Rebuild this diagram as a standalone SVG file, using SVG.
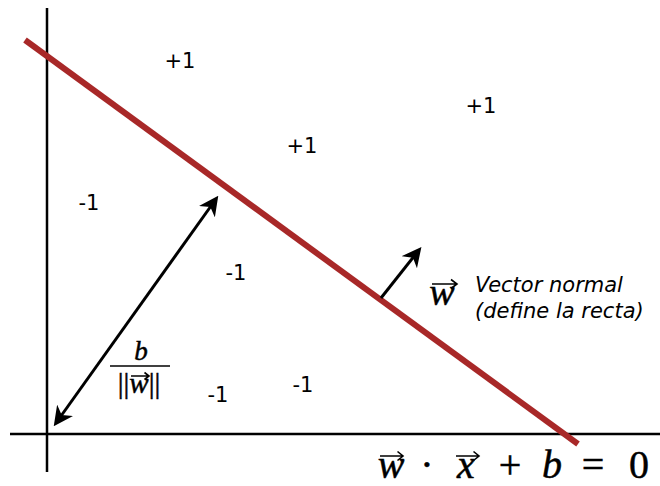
<svg xmlns="http://www.w3.org/2000/svg" width="660" height="486" viewBox="0 0 660 486">
<style>
.ax{stroke:#000;stroke-width:2.5;fill:none}
.arr{stroke:#000;stroke-width:3;fill:none}
.lbl{font-family:"DejaVu Sans",sans-serif;font-size:21px;fill:#000;text-anchor:middle}
.it{font-family:"DejaVu Sans",sans-serif;font-size:21px;font-style:italic;fill:#000}
.m{font-family:"Liberation Serif","DejaVu Serif",serif;fill:#000;stroke:#000;stroke-width:0.5;text-anchor:middle}
.mi{font-style:italic}
.va{stroke:#000;stroke-width:1.6;fill:none}
</style>
<defs>
<marker id="ah" viewBox="0 0 10 10" refX="8" refY="5" markerWidth="6.5" markerHeight="6.5" orient="auto-start-reverse" markerUnits="strokeWidth">
<path d="M0,0 L10,5 L0,10 L3,5 Z" fill="#000"/>
</marker>
</defs>
<rect width="660" height="486" fill="#fff"/>
<g id="axes">
<line class="ax" x1="47" y1="8" x2="47" y2="472"/>
<line class="ax" x1="10" y1="434" x2="660" y2="434"/>
</g>
<g id="hyperplane">
<line x1="25" y1="40" x2="578" y2="444" stroke="#a82828" stroke-width="6"/>
</g>
<g id="connectors">
<line class="arr" x1="56" y1="423" x2="216" y2="199" marker-start="url(#ah)" marker-end="url(#ah)"/>
<line class="arr" x1="381" y1="298" x2="419" y2="250" marker-end="url(#ah)"/>
</g>
<g id="labels">
<text class="lbl" x="180" y="68">+1</text>
<text class="lbl" x="481" y="113">+1</text>
<text class="lbl" x="302" y="153">+1</text>
<text class="lbl" x="89" y="210">-1</text>
<text class="lbl" x="236" y="280">-1</text>
<text class="lbl" x="303" y="392">-1</text>
<text class="lbl" x="218" y="402">-1</text>
</g>
<g id="normal-label">
<text class="m mi" x="442" y="305" font-size="38">w</text>
<path class="va" d="M432,284 L457,284 M451,279.5 L457,284 L451,288.5"/>
<text class="it" x="475" y="292">Vector normal</text>
<text class="it" x="475" y="318">(define la recta)</text>
</g>
<g id="distance-label">
<text class="m mi" x="141" y="360" font-size="27">b</text>
<line x1="110" y1="366" x2="170" y2="366" stroke="#000" stroke-width="1.5"/>
<text class="m" x="139" y="393" font-size="29">||<tspan class="mi">w</tspan>||</text>
<path class="va" d="M131,376 L149,376 M144.5,372.5 L149,376 L144.5,379.5"/>
</g>
<g id="equation">
<text class="m mi" x="391" y="478" font-size="40">w</text>
<path class="va" d="M380,456 L403,456 M397.5,451.5 L403,456 L397.5,460.5"/>
<text class="m" x="427" y="478" font-size="40">·</text>
<text class="m mi" x="466" y="478" font-size="40">x</text>
<path class="va" d="M456,456 L479,456 M473.5,451.5 L479,456 L473.5,460.5"/>
<text class="m" x="510" y="478" font-size="40">+</text>
<text class="m mi" x="552" y="478" font-size="40">b</text>
<text class="m" x="593" y="478" font-size="40">=</text>
<text class="m" x="639" y="478" font-size="40">0</text>
</g>
</svg>
